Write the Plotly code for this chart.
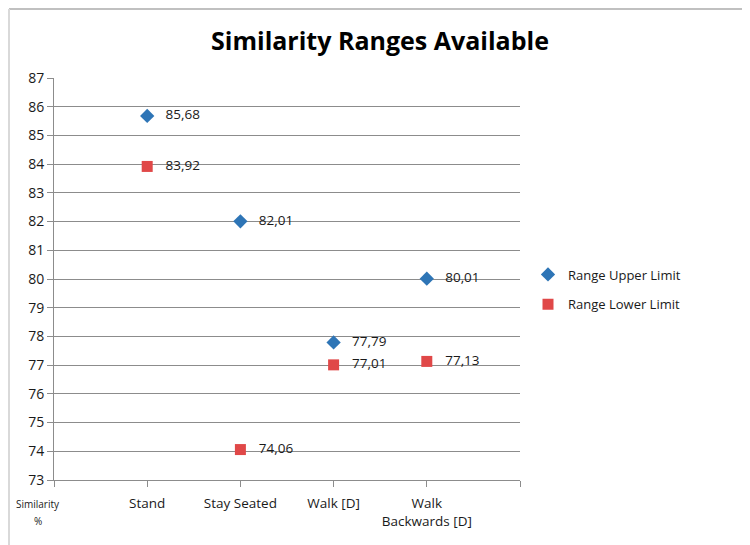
import plotly.graph_objects as go

categories = ["Stand", "Stay Seated", "Walk [D]", "Walk<br>Backwards [D]"]
upper_x = ["Stand", "Stay Seated", "Walk [D]", "Walk<br>Backwards [D]"]
upper_vals = [85.68, 82.01, 77.79, 80.01]
lower_x = ["Stand", "Stay Seated", "Walk [D]", "Walk<br>Backwards [D]"]
lower_vals = [83.92, 74.06, 77.01, 77.13]
y_ticks = list(range(73, 88))

def fmt(v):
    return f"{v:.2f}".replace(".", ",")

cat_pos = {c: i + 1 for i, c in enumerate(categories)}

font_family = "Open Sans, Liberation Sans, sans-serif"
W, H = 742, 537
L, R, T, B = 46, 230, 70, 65
PW, PH = W - L - R, H - T - B

fig = go.Figure()
fig.add_trace(go.Scatter(
    x=[cat_pos[c] for c in upper_x], y=upper_vals,
    mode="markers+text", name="Range Upper Limit", legendgroup="u",
    marker=dict(symbol="diamond", size=11, color="#2E75B6"),
    text=["   " + fmt(v) for v in upper_vals], textposition="middle right",
    textfont=dict(size=13.5, color="#1a1a1a", family=font_family),
))
fig.add_trace(go.Scatter(
    x=[cat_pos[c] for c in lower_x], y=lower_vals,
    mode="markers+text", name="Range Lower Limit", legendgroup="l",
    marker=dict(symbol="square", size=11, color="#E04848"),
    text=["   " + fmt(v) for v in lower_vals], textposition="middle right",
    textfont=dict(size=13.5, color="#1a1a1a", family=font_family),
))

fig.update_layout(
    width=W, height=H,
    margin=dict(l=L, r=R, t=T, b=B),
    paper_bgcolor="white", plot_bgcolor="white",
    title=dict(text="<b>Similarity Ranges Available</b>", x=(372 - L) / PW, xref="paper",
               xanchor="center", y=1 - 33 / H, yanchor="middle",
               font=dict(size=25, color="black", family=font_family)),
    font=dict(family=font_family, color="#1a1a1a", size=13),
    showlegend=True,
    legend=dict(x=(520 - L) / PW, y=1 - (281.5 - T) / PH, xanchor="left", yanchor="middle",
                font=dict(size=13, color="#1a1a1a"), bgcolor="rgba(0,0,0,0)",
                itemwidth=30, tracegroupgap=10),
    xaxis=dict(range=[0, 5], tickmode="array", tickvals=[1, 2, 3, 4],
               ticktext=categories, showgrid=False, zeroline=False,
               showline=True, linecolor="#8c8c8c", linewidth=1,
               ticks="outside", ticklen=6, tickcolor="#8c8c8c",
               ticklabelstandoff=5,
               tickfont=dict(size=13.5, color="#1a1a1a")),
    yaxis=dict(range=[73, 87], tickmode="array", tickvals=y_ticks,
               showgrid=True, gridcolor="#8c8c8c", gridwidth=1, zeroline=False,
               showline=True, linecolor="#8c8c8c", linewidth=1,
               ticks="outside", ticklen=6, tickcolor="#8c8c8c",
               tickfont=dict(size=14, color="#1a1a1a")),
)

fig.update_xaxes(minor=dict(tickvals=[0, 5], ticks="outside", ticklen=6, tickcolor="#8c8c8c"))

fig.add_annotation(text="Similarity", xref="paper", yref="paper",
                   x=(30 - L) / PW, y=-(495 - 8 - (H - B)) / PH, xanchor="center", yanchor="top",
                   showarrow=False, font=dict(size=10, color="#1a1a1a"))
fig.add_annotation(text="%", xref="paper", yref="paper",
                   x=(30 - L) / PW, y=-(512 - 8 - (H - B)) / PH, xanchor="center", yanchor="top",
                   showarrow=False, font=dict(size=10, color="#1a1a1a"))

# chart frame (top and left edges visible)
fig.add_shape(type="line", xref="paper", yref="paper",
              x0=(1 - L) / PW, x1=(W - L) / PW,
              y0=(H - B - 1) / PH, y1=(H - B - 1) / PH,
              line=dict(color="#c0c0c0", width=2))
fig.add_shape(type="line", xref="paper", yref="paper",
              x0=(1 - L) / PW, x1=(1 - L) / PW,
              y0=(H - B - 1) / PH, y1=-B / PH,
              line=dict(color="#d9d9d9", width=2))

fig.write_html("out.html")
